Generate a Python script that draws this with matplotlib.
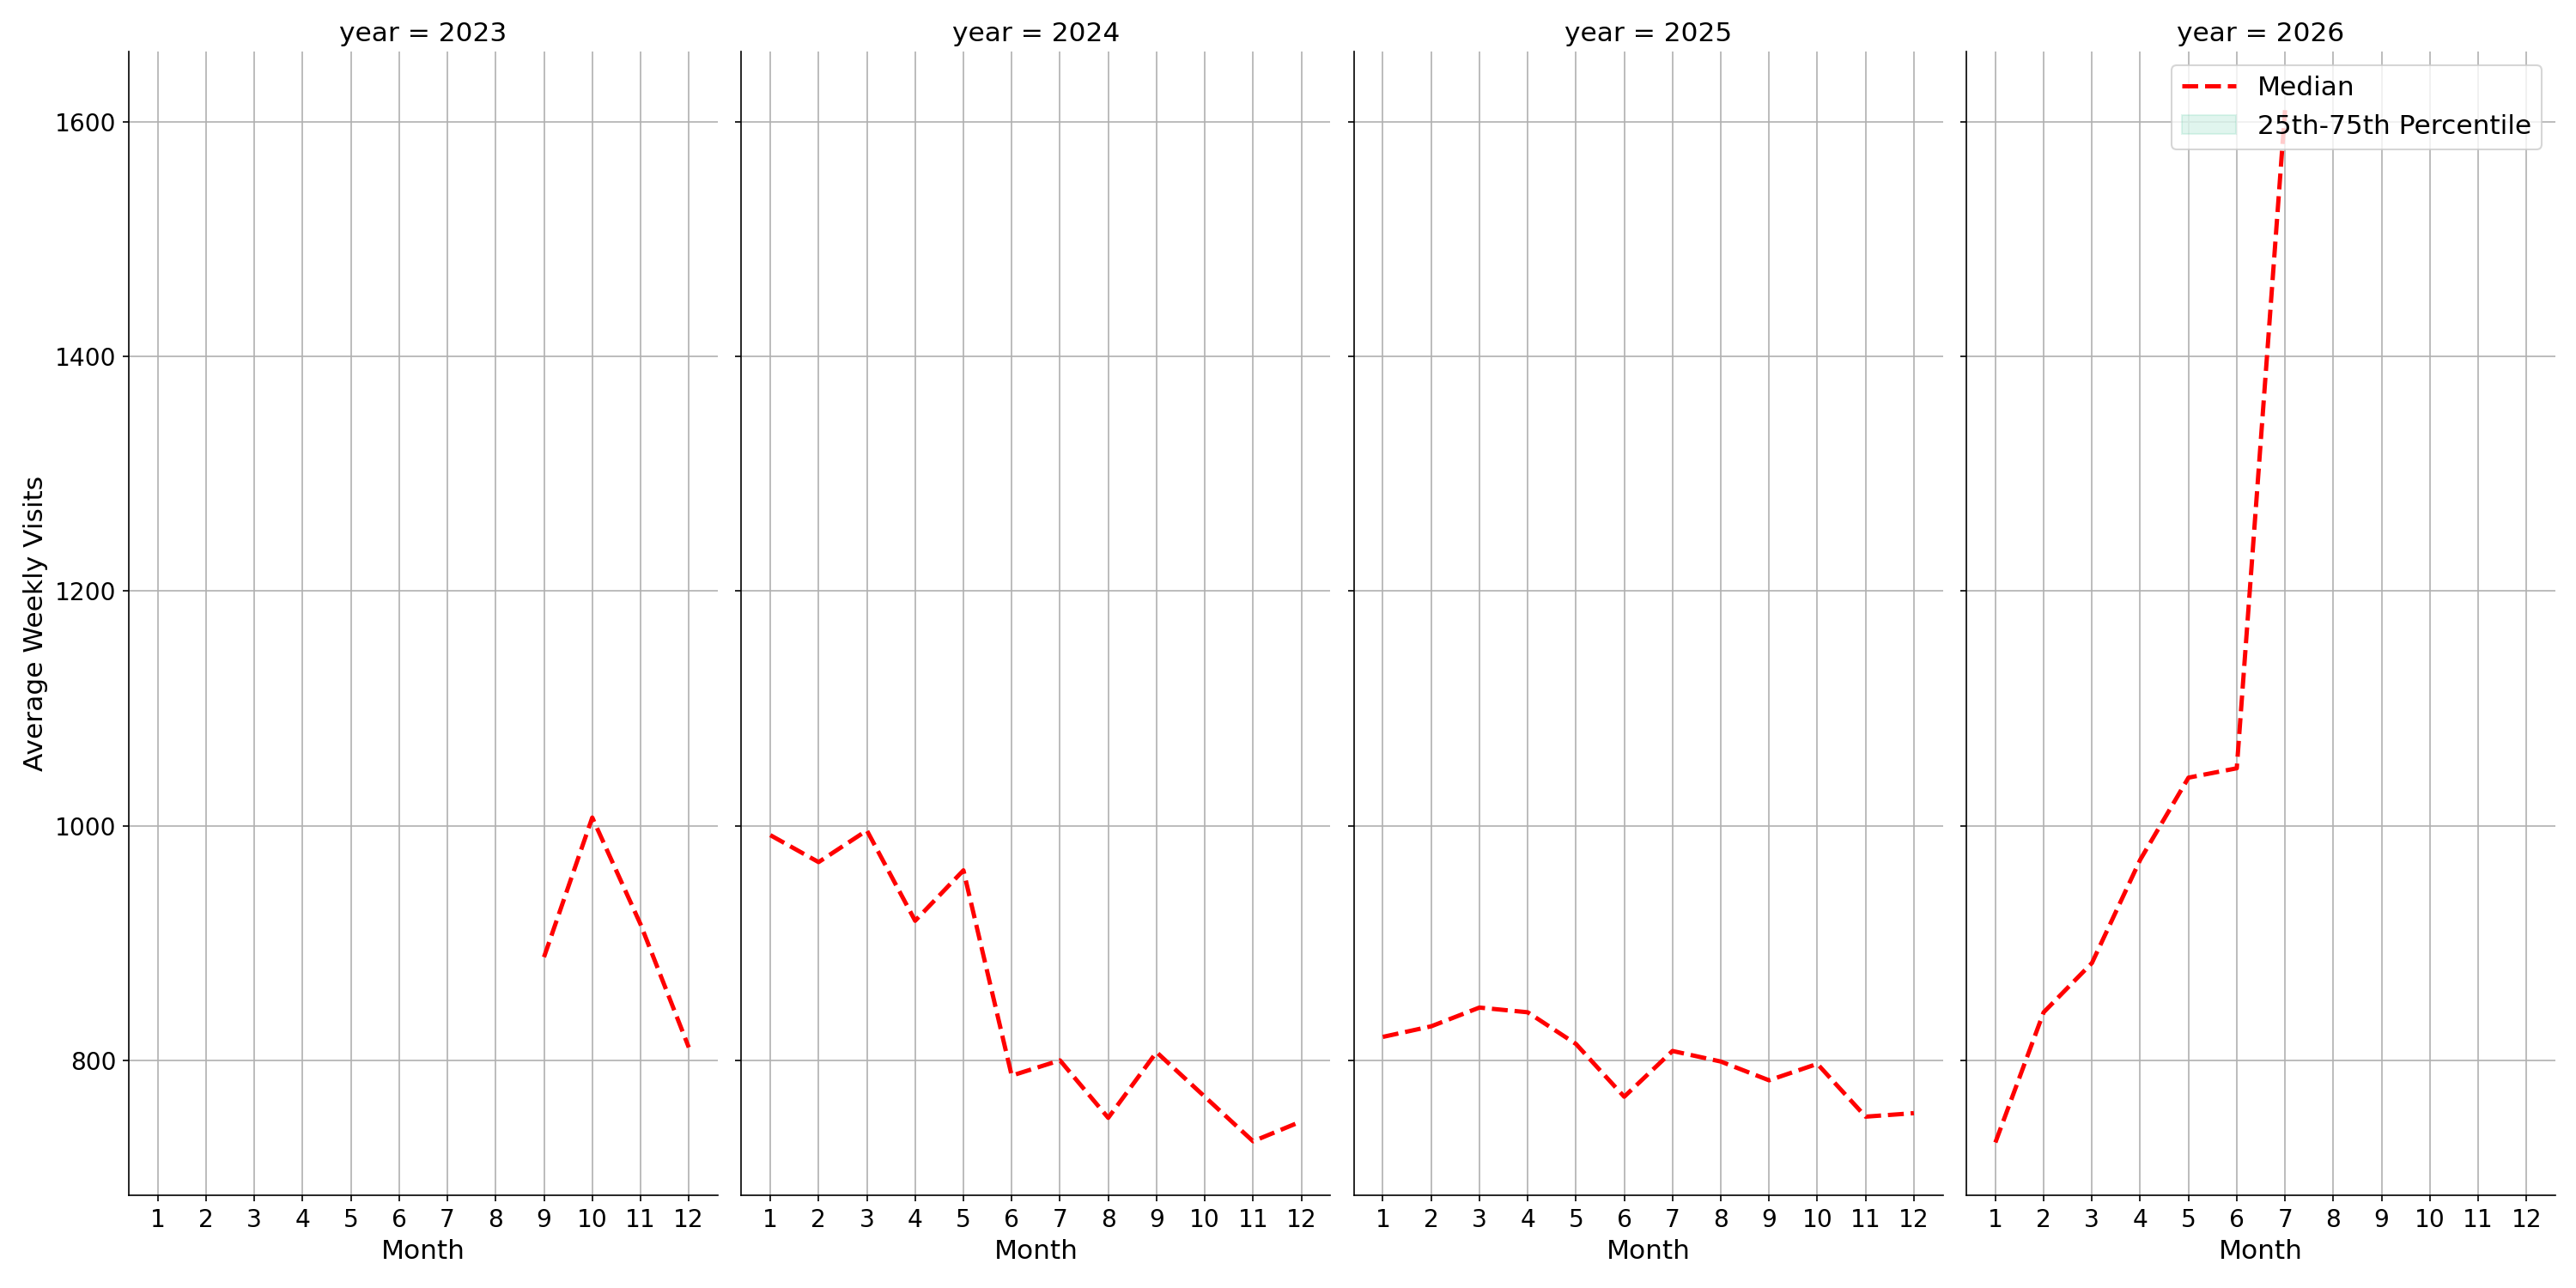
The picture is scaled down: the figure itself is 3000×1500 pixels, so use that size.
import numpy as np
import matplotlib.pyplot as plt

years = [2023, 2024, 2025, 2026]
months = list(range(1, 13))
median = {
    2023: [np.nan] * 8 + [888, 1007, 916, 811],
    2024: [992, 969, 996, 919, 962, 787, 800, 751, 807, 769, 731, 748],
    2025: [820, 829, 845, 841, 814, 769, 808, 799, 783, 797, 752, 755],
    2026: [730, 841, 883, 971, 1041, 1049, 1610] + [np.nan] * 5,
}

plt.rcParams.update({'font.size': 13.5})
fig, axes = plt.subplots(1, 4, figsize=(20, 10), dpi=150, sharey=True)

for ax, year in zip(axes, years):
    ax.plot(months, median[year], color='red', linestyle='--', linewidth=2.4, label='Median')
    ax.fill_between(months, np.full(12, np.nan), np.full(12, np.nan),
                    color='mediumaquamarine', alpha=0.2, label='25th-75th Percentile')
    ax.set_title('year = %d' % year, fontsize=15)
    ax.set_xticks(months)
    ax.set_xlabel('Month', fontsize=15)
    ax.grid(True, color='#b0b0b0', linewidth=0.8)
    ax.spines['top'].set_visible(False)
    ax.spines['right'].set_visible(False)
    ax.set_xlim(0.4, 12.6)

axes[0].set_ylim(685, 1660)
axes[0].set_yticks([800, 1000, 1200, 1400, 1600])
axes[0].set_ylabel('Average Weekly Visits', fontsize=15)
axes[3].legend(loc='upper right', fontsize=15)

fig.subplots_adjust(left=0.05, right=0.992, bottom=0.072, top=0.96, wspace=0.04)
fig.savefig('out.png')
